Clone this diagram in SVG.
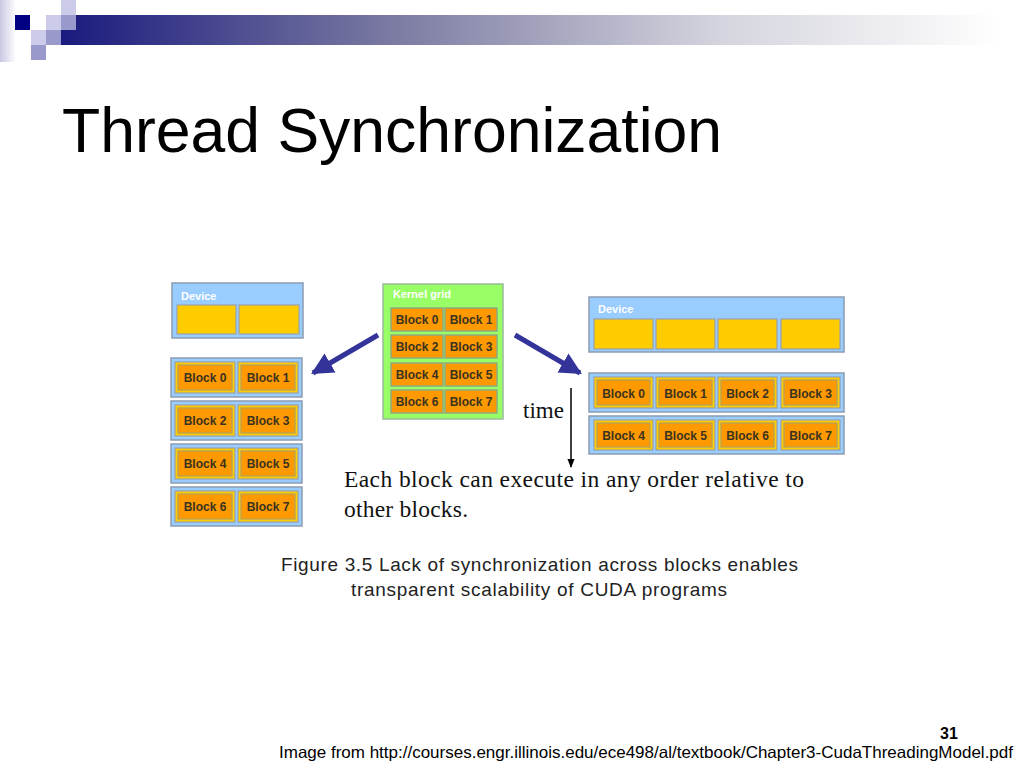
<svg xmlns="http://www.w3.org/2000/svg" width="1024" height="768" viewBox="0 0 1024 768">
<defs>
  <linearGradient id="bar" x1="0" y1="0" x2="1" y2="0">
    <stop offset="0" stop-color="#1a1a7e"/>
    <stop offset="0.35" stop-color="#7a7aa2"/>
    <stop offset="0.7" stop-color="#d4d4de"/>
    <stop offset="1" stop-color="#ffffff"/>
  </linearGradient>
  <linearGradient id="edge" x1="0" y1="0" x2="1" y2="0">
    <stop offset="0" stop-color="#c8c8e4"/>
    <stop offset="1" stop-color="#ffffff"/>
  </linearGradient>
  <marker id="bigHead" viewBox="0 0 10 10" refX="9" refY="5" markerWidth="22" markerHeight="24" markerUnits="userSpaceOnUse" orient="auto">
    <path d="M0,0 L10,5 L0,10 z" fill="#333399"/>
  </marker>
  <marker id="smallHead" viewBox="0 0 10 10" refX="9" refY="5" markerWidth="9" markerHeight="9" markerUnits="userSpaceOnUse" orient="auto">
    <path d="M0,1 L10,5 L0,9 z" fill="#000"/>
  </marker>
</defs>
<style>
  .dev{fill:#99ccff;stroke:#8c9cb0;stroke-width:1.5}
  .slot{fill:#ffcc00;stroke:#9aa0a8;stroke-width:1.2}
  .blk{fill:#ff9900;stroke:#b0a060;stroke-width:1.2}
  .kblk{fill:#ff9900;stroke:#8faa80;stroke-width:1.5}
  .btxt{font-family:"Liberation Sans",Arial,sans-serif;font-size:12px;font-weight:bold;fill:#3a3320;text-anchor:middle}
  .hdr{font-family:"Liberation Sans",Arial,sans-serif;font-size:11px;font-weight:bold;fill:#ffffff}
  .serif{font-family:"Liberation Serif","Times New Roman",serif;fill:#111}
  .sans{font-family:"Liberation Sans",Arial,sans-serif;fill:#222}
</style>
<rect width="1024" height="768" fill="#ffffff"/>

<g id="banner">
  <rect x="0" y="0" width="16" height="62" fill="url(#edge)"/>
  <rect x="61" y="15" width="940" height="30" fill="url(#bar)"/>
  <rect x="15" y="15" width="15" height="15" fill="#000080"/>
  <rect x="61" y="0" width="15" height="15" fill="#ccccea"/>
  <rect x="46" y="15" width="15" height="15" fill="#ccccea"/>
  <rect x="31" y="30" width="15" height="15" fill="#ccccea"/>
  <rect x="61" y="15" width="15" height="15" fill="#9999cc"/>
  <rect x="46" y="30" width="15" height="15" fill="#9999cc"/>
  <rect x="31" y="45" width="15" height="15" fill="#9999cc"/>
</g>

<text id="title" x="62" y="152" font-family="Liberation Sans,Arial,sans-serif" font-size="62.5" fill="#000">Thread Synchronization</text>

<g id="kernel-grid">
  <rect x="383" y="284" width="120" height="135" fill="#99ff66" stroke="#99bb99" stroke-width="1.5"/>
  <text class="hdr" x="393" y="298">Kernel grid</text>
  <rect class="kblk" x="391" y="308" width="52" height="23"/><text class="btxt" x="417" y="324">Block 0</text>
  <rect class="kblk" x="445" y="308" width="52" height="23"/><text class="btxt" x="471" y="324">Block 1</text>
  <rect class="kblk" x="391" y="335" width="52" height="23"/><text class="btxt" x="417" y="351">Block 2</text>
  <rect class="kblk" x="445" y="335" width="52" height="23"/><text class="btxt" x="471" y="351">Block 3</text>
  <rect class="kblk" x="391" y="363" width="52" height="23"/><text class="btxt" x="417" y="379">Block 4</text>
  <rect class="kblk" x="445" y="363" width="52" height="23"/><text class="btxt" x="471" y="379">Block 5</text>
  <rect class="kblk" x="391" y="390" width="52" height="23"/><text class="btxt" x="417" y="406">Block 6</text>
  <rect class="kblk" x="445" y="390" width="52" height="23"/><text class="btxt" x="471" y="406">Block 7</text>
</g>

<g id="device-2">
  <rect class="dev" x="172" y="283" width="131" height="55"/>
  <text class="hdr" x="181" y="300">Device</text>
  <rect class="slot" x="177" y="305" width="59" height="29"/>
  <rect class="slot" x="239" y="305" width="60" height="29"/>
</g>

<g id="device-2-schedule">
  <rect class="dev" x="171" y="358" width="131" height="39"/>
  <rect class="slot" x="175" y="362" width="60" height="31"/><rect class="blk" x="178" y="365" width="54" height="25"/><text class="btxt" x="205" y="382">Block 0</text>
  <rect class="slot" x="238" y="362" width="60" height="31"/><rect class="blk" x="241" y="365" width="54" height="25"/><text class="btxt" x="268" y="382">Block 1</text>
  <rect class="dev" x="171" y="401" width="131" height="39"/>
  <rect class="slot" x="175" y="405" width="60" height="31"/><rect class="blk" x="178" y="408" width="54" height="25"/><text class="btxt" x="205" y="425">Block 2</text>
  <rect class="slot" x="238" y="405" width="60" height="31"/><rect class="blk" x="241" y="408" width="54" height="25"/><text class="btxt" x="268" y="425">Block 3</text>
  <rect class="dev" x="171" y="444" width="131" height="39"/>
  <rect class="slot" x="175" y="448" width="60" height="31"/><rect class="blk" x="178" y="451" width="54" height="25"/><text class="btxt" x="205" y="468">Block 4</text>
  <rect class="slot" x="238" y="448" width="60" height="31"/><rect class="blk" x="241" y="451" width="54" height="25"/><text class="btxt" x="268" y="468">Block 5</text>
  <rect class="dev" x="171" y="487" width="131" height="39"/>
  <rect class="slot" x="175" y="491" width="60" height="31"/><rect class="blk" x="178" y="494" width="54" height="25"/><text class="btxt" x="205" y="511">Block 6</text>
  <rect class="slot" x="238" y="491" width="60" height="31"/><rect class="blk" x="241" y="494" width="54" height="25"/><text class="btxt" x="268" y="511">Block 7</text>
</g>

<g id="device-4">
  <rect class="dev" x="589" y="297" width="255" height="55"/>
  <text class="hdr" x="598" y="313">Device</text>
  <rect class="slot" x="594" y="319" width="59" height="30"/>
  <rect class="slot" x="656" y="319" width="59" height="30"/>
  <rect class="slot" x="718" y="319" width="59" height="30"/>
  <rect class="slot" x="781" y="319" width="59" height="30"/>
</g>

<g id="device-4-schedule">
  <rect class="dev" x="589" y="373" width="255" height="39"/>
  <rect class="slot" x="594" y="377" width="59" height="31"/><rect class="blk" x="597" y="380" width="53" height="25"/><text class="btxt" x="623.5" y="398">Block 0</text>
  <rect class="slot" x="656" y="377" width="59" height="31"/><rect class="blk" x="659" y="380" width="53" height="25"/><text class="btxt" x="685.5" y="398">Block 1</text>
  <rect class="slot" x="718" y="377" width="59" height="31"/><rect class="blk" x="721" y="380" width="53" height="25"/><text class="btxt" x="747.5" y="398">Block 2</text>
  <rect class="slot" x="781" y="377" width="59" height="31"/><rect class="blk" x="784" y="380" width="53" height="25"/><text class="btxt" x="810.5" y="398">Block 3</text>
  <rect class="dev" x="589" y="416" width="255" height="38"/>
  <rect class="slot" x="594" y="420" width="59" height="30"/><rect class="blk" x="597" y="423" width="53" height="24"/><text class="btxt" x="623.5" y="440">Block 4</text>
  <rect class="slot" x="656" y="420" width="59" height="30"/><rect class="blk" x="659" y="423" width="53" height="24"/><text class="btxt" x="685.5" y="440">Block 5</text>
  <rect class="slot" x="718" y="420" width="59" height="30"/><rect class="blk" x="721" y="423" width="53" height="24"/><text class="btxt" x="747.5" y="440">Block 6</text>
  <rect class="slot" x="781" y="420" width="59" height="30"/><rect class="blk" x="784" y="423" width="53" height="24"/><text class="btxt" x="810.5" y="440">Block 7</text>
</g>

<g id="connectors">
  <line x1="378" y1="335" x2="313" y2="373" stroke="#333399" stroke-width="5" marker-end="url(#bigHead)"/>
  <line x1="515" y1="335" x2="580" y2="373" stroke="#333399" stroke-width="5" marker-end="url(#bigHead)"/>
  <line x1="571" y1="388" x2="571" y2="467" stroke="#000" stroke-width="1.5" marker-end="url(#smallHead)"/>
</g>

<text class="serif" x="523" y="418" font-size="23">time</text>
<text class="serif" x="344" y="487" font-size="23.5" textLength="460" lengthAdjust="spacing">Each block can execute in any order relative to</text>
<text class="serif" x="344" y="517" font-size="23.5" textLength="124" lengthAdjust="spacing">other blocks.</text>

<text class="sans" x="281" y="571" font-size="19" textLength="517" lengthAdjust="spacing">Figure 3.5 Lack of synchronization across blocks enables</text>
<text class="sans" x="351" y="596" font-size="19" textLength="376" lengthAdjust="spacing">transparent scalability of CUDA programs</text>

<text x="940" y="739" font-family="Liberation Sans,Arial,sans-serif" font-size="16" font-weight="bold" fill="#000">31</text>
<text x="279" y="758" font-family="Liberation Sans,Arial,sans-serif" font-size="16.5" fill="#000" textLength="734" lengthAdjust="spacingAndGlyphs">Image from http://courses.engr.illinois.edu/ece498/al/textbook/Chapter3-CudaThreadingModel.pdf</text>
</svg>
